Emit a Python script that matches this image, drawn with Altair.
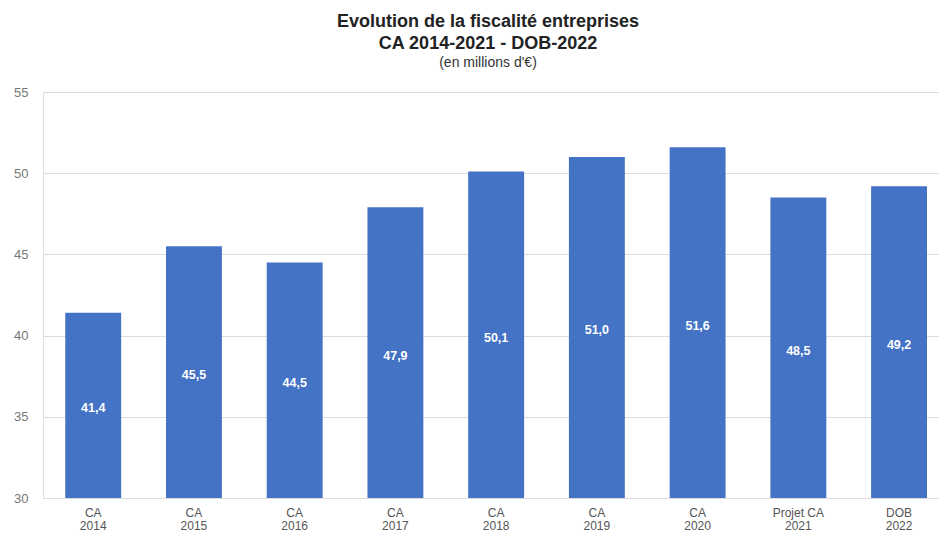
import altair as alt
import pandas as pd

categories = ["CA|2014", "CA|2015", "CA|2016", "CA|2017", "CA|2018",
              "CA|2019", "CA|2020", "Projet CA|2021", "DOB|2022"]
values = [41.4, 45.5, 44.5, 47.9, 50.1, 51.0, 51.6, 48.5, 49.2]
y_ticks = [30, 35, 40, 45, 50, 55]

df = pd.DataFrame({"cat": categories, "value": values})

FONT = "Liberation Sans"

xenc = alt.X("cat:N", sort=categories,
             scale=alt.Scale(paddingInner=0.445, paddingOuter=0.17, align=0.65),
             axis=alt.Axis(title=None, labelAngle=0, labelExpr="split(datum.label, '|')",
                           labelFont=FONT, labelFontSize=12, labelColor="#555555",
                           labelLineHeight=13, labelPadding=9, ticks=False,
                           domain=False, grid=False))
yscale = alt.Scale(domain=[30, 55], nice=False, zero=False)

bars = alt.Chart(df).mark_bar(color="#4472C4").encode(
    x=xenc,
    y=alt.Y("value:Q", scale=yscale,
            axis=alt.Axis(title=None, values=y_ticks, labelFont=FONT, labelFontSize=13,
                          labelColor="#777777", labelPadding=15, ticks=False,
                          domain=False, grid=True, gridColor="#dcdcdc", gridWidth=1)),
    y2=alt.datum(30),
)

labels = alt.Chart(df).transform_calculate(
    mid="(30 + datum.value) / 2",
    txt="replace(format(datum.value, '.1f'), '.', ',')",
).mark_text(color="white", font=FONT, fontSize=12.5, fontWeight="bold", dy=3).encode(
    x=alt.X("cat:N", sort=categories),
    y=alt.Y("mid:Q", scale=yscale),
    text="txt:N",
)

chart = alt.layer(bars, labels).properties(
    width=896, height=406,
    padding={"left": 43, "top": 92, "right": 0, "bottom": 37},
    autosize=alt.AutoSizeParams(type="none"),
    title=alt.TitleParams(
        text=["Evolution de la fiscalité entreprises", "CA 2014-2021 - DOB-2022"],
        subtitle="(en millions d'€)",
        font=FONT, fontSize=18, fontWeight="bold", color="#222222", lineHeight=22,
        subtitleFont=FONT, subtitleFontSize=14, subtitleColor="#333333",
        subtitlePadding=3, anchor="middle", dx=-3, offset=16,
    ),
).configure_view(stroke=None).configure(background="white")

chart.save("out.html", embed_options={"renderer": "svg", "actions": False})
